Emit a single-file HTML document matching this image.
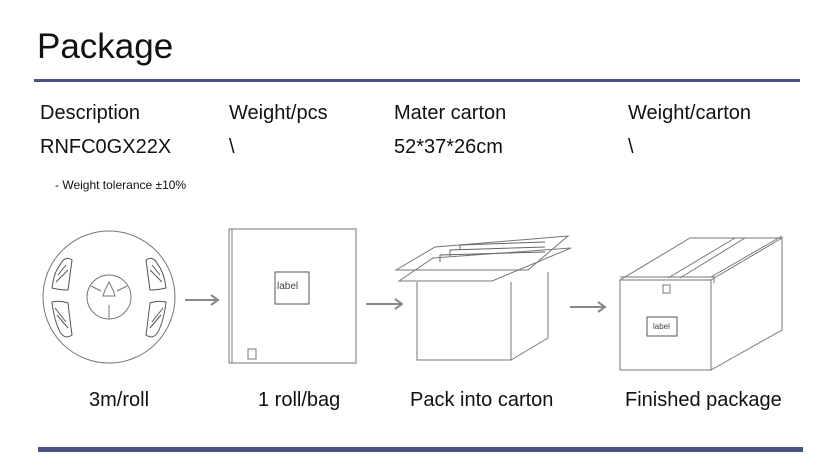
<!DOCTYPE html>
<html><head><style>
body{margin:0;width:838px;height:458px;background:#fff;position:relative;overflow:hidden;font-family:"Liberation Sans",Arial,sans-serif;color:#111}
.t{position:absolute;white-space:nowrap}
</style></head><body>
<div class="t" style="left:37px;top:27px;font-size:35px">Package</div>
<div style="position:absolute;left:34px;top:79px;width:766px;height:3px;background:#4a5282"></div>
<div class="t" style="left:40px;top:102px;font-size:20px">Description</div>
<div class="t" style="left:229px;top:102px;font-size:20px">Weight/pcs</div>
<div class="t" style="left:394px;top:102px;font-size:20px">Mater carton</div>
<div class="t" style="left:628px;top:102px;font-size:20px">Weight/carton</div>
<div class="t" style="left:40px;top:136px;font-size:20px">RNFC0GX22X</div>
<div class="t" style="left:229px;top:136px;font-size:20px">\</div>
<div class="t" style="left:394px;top:136px;font-size:20px">52*37*26cm</div>
<div class="t" style="left:628px;top:136px;font-size:20px">\</div>
<div class="t" style="left:55px;top:178px;font-size:12px">- Weight tolerance ±10%</div>
<svg style="position:absolute;left:0;top:0" width="838" height="458" fill="none" stroke="#777" stroke-width="1">
<circle cx="109" cy="297" r="66"/>
<circle cx="109" cy="297" r="22"/>
<path d="M101 291 L91 286 M117 291 L127 286 M109 305 V318 M105 290 L109 282 L113 290 L115 296 L103 296 Z"/>
<g stroke="#555">
<path d="M60 265 Q65 255 72 260 Q70 275 68 290 Q60 290 52 288 Q54 272 60 265Z"/>
<path d="M52 302 Q60 300 68 303 Q70 320 72 335 Q65 340 60 332 Q54 320 52 302Z"/>
<path d="M158 265 Q153 255 146 260 Q148 275 150 290 Q158 290 166 288 Q164 272 158 265Z"/>
<path d="M166 302 Q158 300 150 303 Q148 320 146 335 Q153 340 158 332 Q164 320 166 302Z"/>
<path d="M58 275 L66 265 M56 282 L68 270 M57 315 L68 328 M55 308 L66 322 M160 275 L152 265 M162 282 L150 270 M161 315 L150 328 M163 308 L152 322"/>
</g>
<g stroke="#888" stroke-width="2">
<path d="M185 300 H218 M211 295 L218 300 L211 305"/>
<path d="M366 304 H402 M395 299 L402 304 L395 309"/>
<path d="M570 307 H605 M598 302 L605 307 L598 312"/>
</g>
<rect x="229" y="229" width="127" height="134"/>
<line x1="232" y1="229" x2="232" y2="363"/>
<rect x="275" y="272" width="34" height="32" stroke="#555"/>
<rect x="248" y="349" width="8" height="10"/>
<path d="M417 282 V360 H511 V282 M511 360 L548 338 V272"/>
<path d="M396 270 L435 247 L568 236 L528 270 Z" />
<path d="M399 281 L433 258 L571 248 L492 281 Z" />
<path d="M440 262 L440 255 L545 252 M450 256 L450 250 L545 247 M460 250 L460 245 L545 242" stroke="#666"/>
<path d="M620 280 H711 V370 H620 Z M711 370 L782 330 V238 M620 280 L690 238 H782 L711 280"/>
<path d="M620 277 H714 V283 M711 277 L782 236"/>
<path d="M668 278 L735 238 M680 278 L745 238" />
<rect x="663" y="285" width="7" height="8"/>
<rect x="647" y="317" width="30" height="19" stroke="#555"/>
</svg>
<div class="t" style="left:277px;top:281px;font-size:10px;color:#444">label</div>
<div class="t" style="left:653px;top:322px;font-size:8px;color:#444">label</div>
<div class="t" style="left:89px;top:389px;font-size:20px">3m/roll</div>
<div class="t" style="left:258px;top:389px;font-size:20px">1 roll/bag</div>
<div class="t" style="left:410px;top:389px;font-size:20px">Pack into carton</div>
<div class="t" style="left:625px;top:389px;font-size:20px">Finished package</div>
<div style="position:absolute;left:38px;top:447px;width:765px;height:5px;background:#4a5282"></div>
</body></html>
